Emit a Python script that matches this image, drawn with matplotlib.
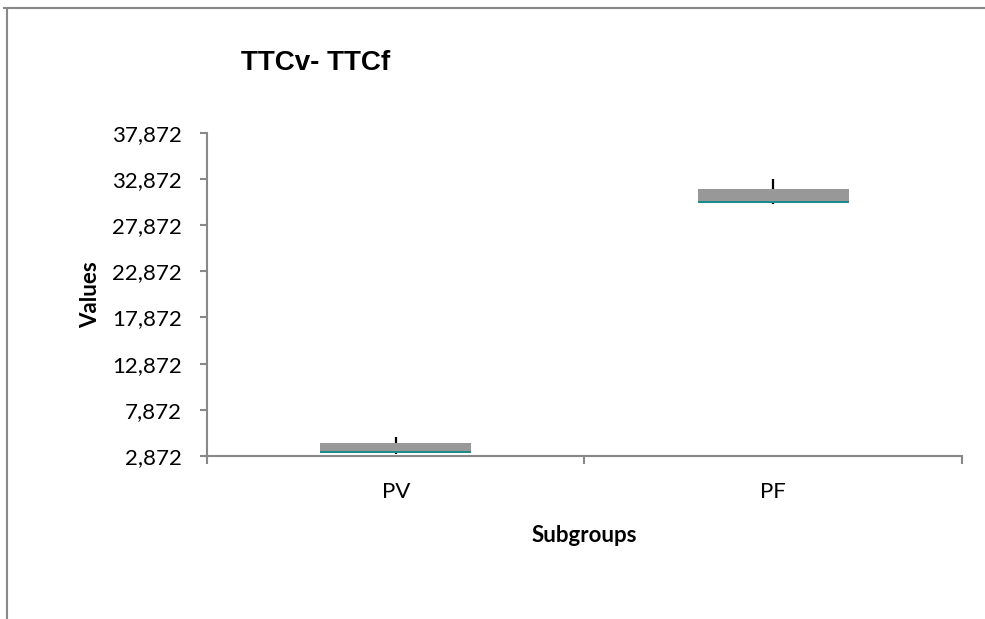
import numpy as np
import matplotlib
matplotlib.use("Agg")
import matplotlib.pyplot as plt
from matplotlib.ticker import FuncFormatter
from matplotlib.lines import Line2D

# Box statistics per subgroup
groups = ["PV", "PF"]
mins = [3090, 30130]
q1 = [3250, 30300]
medians = [3450, 30500]
q3 = [4310, 31760]
maxs = [4900, 32840]

y_ticks = [2872, 7872, 12872, 17872, 22872, 27872, 32872, 37872]

fig = plt.figure(figsize=(9.85, 6.19), dpi=100)
ax = fig.add_axes([0.2102, 0.2633, 0.7664, 0.5223])

x = np.arange(1, len(groups) + 1)
lower = np.array(medians) - np.array(q1)
upper = np.array(q3) - np.array(medians)

# whiskers behind the box
ax.vlines(x, mins, q1, color="black", linewidth=1.6, zorder=1)
ax.vlines(x, q3, maxs, color="black", linewidth=1.6, zorder=1)

ax.bar(x, lower, bottom=q1, width=0.4, color="#1f8a8a", zorder=2)
ax.bar(x, upper, bottom=medians, width=0.4, color="#989898", zorder=2)

ax.set_xlim(0.5, len(groups) + 0.5)
ax.set_ylim(y_ticks[0], y_ticks[-1])
ax.set_yticks(y_ticks)
ax.yaxis.set_major_formatter(FuncFormatter(lambda v, p: f"{v:,.0f}"))
ax.set_xticks(x)
ax.set_xticklabels(groups)
ax.set_xticks(np.arange(0.5, len(groups) + 1, 1.0), minor=True)

for s in ["top", "right"]:
    ax.spines[s].set_visible(False)
for s in ["left", "bottom"]:
    ax.spines[s].set_color("#888888")
    ax.spines[s].set_linewidth(1.5)

ax.tick_params(axis="y", direction="out", length=5, width=1.5, color="#888888",
               labelsize=16, pad=13)
ax.tick_params(axis="x", which="major", length=0, labelsize=16, pad=19)
ax.tick_params(axis="x", which="minor", direction="out", length=5.5, width=1.5,
               color="#888888")
for lab in ax.get_xticklabels() + ax.get_yticklabels():
    lab.set_fontfamily("Lato")

ax.set_ylabel("Values", fontsize=16, fontweight="bold", family="Lato", labelpad=8)
ax.set_xlabel("Subgroups", fontsize=16, fontweight="bold", family="Lato", labelpad=16)

fig.text(0.32, 0.898, "TTCv- TTCf", fontsize=20, fontweight="bold",
         family="Liberation Sans", ha="center", va="center")

# outer chart frame (top and left edges visible)
fig.add_artist(Line2D([0.004, 1.0], [0.987, 0.987], color="#888888", linewidth=1.5))
fig.add_artist(Line2D([0.007, 0.007], [0.0, 0.987], color="#888888", linewidth=1.5))

fig.savefig("out.png", dpi=100)
